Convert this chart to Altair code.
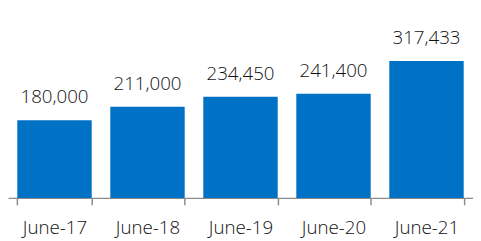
import altair as alt
import pandas as pd

categories = ["June-17", "June-18", "June-19", "June-20", "June-21"]
values = [180000, 211000, 234450, 241400, 317433]
labels = ["180,000", "211,000", "234,450", "241,400", "317,433"]

df = pd.DataFrame({"cat": categories, "val": values, "lab": labels})

FONT = "Open Sans"

x = alt.X("cat:N", sort=categories, title=None,
          scale=alt.Scale(paddingInner=0.2, paddingOuter=0.1),
          axis=alt.Axis(labelAngle=0, tickBand="extent", domainColor="#8c8c8c",
                        tickColor="#8c8c8c", tickSize=7, domainWidth=1.5, tickWidth=1.5,
                        labelFont=FONT, labelFontSize=19, labelFontWeight=300,
                        labelColor="#111111", labelPadding=14, grid=False))
y = alt.Y("val:Q", scale=alt.Scale(domain=[0, 436000], nice=False), axis=None)

bars = alt.Chart(df).mark_bar(color="#0072C6").encode(x=x, y=y)
text = alt.Chart(df).mark_text(font=FONT, fontSize=19, fontWeight=300, color="#111111",
                               baseline="middle", dy=-23).encode(x=x, y=y, text="lab:N")

chart = (bars + text).properties(
    width=472, height=191,
    padding={"left": 0, "top": 0, "right": 0, "bottom": 0}
).configure_view(stroke=None)

chart.save("out.html", embed_options={"renderer": "svg", "actions": False})
